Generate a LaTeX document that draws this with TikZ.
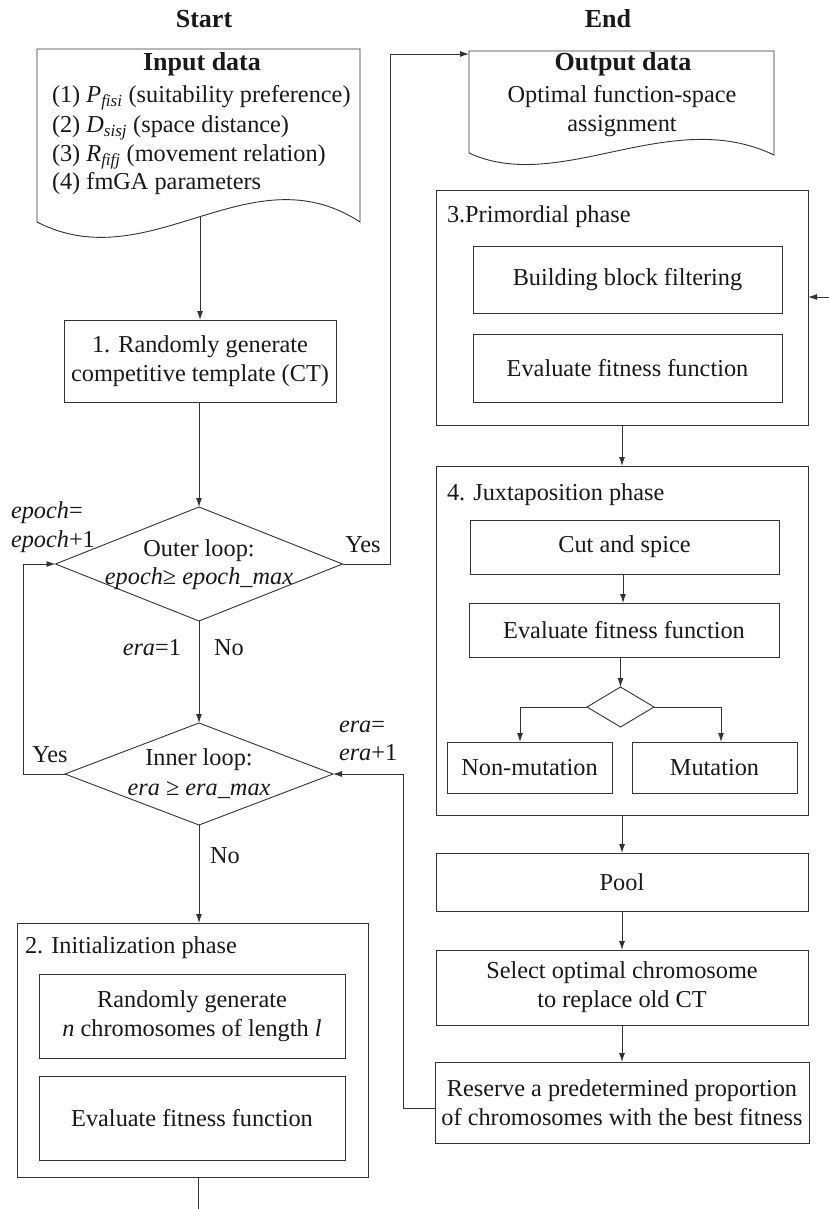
\documentclass[tikz,border=0pt]{standalone}
\usepackage{fontspec}
\setmainfont{Liberation Serif}
\usetikzlibrary{arrows.meta,shapes.geometric}
\newcommand\bodyfont{\fontsize{24.3}{29}\selectfont}
\newcommand\headfont{\fontsize{26}{30}\selectfont\bfseries}
\begin{document}
\begin{tikzpicture}[x=1pt,y=-1pt,
  every node/.style={text=black!90, inner sep=0pt, outer sep=0pt},
  line/.style={draw=black!80, line width=0.9pt},
  arr/.style={line, -{Latex[length=9pt,width=6pt]}},
  box/.style={draw=black!80, line width=0.9pt, rectangle, align=center, font=\bodyfont},
  lbl/.style={font=\bodyfont, text height=17pt, text depth=6pt},
  head/.style={font=\headfont, text height=18pt, text depth=6pt},
  dia/.style={draw=black!80, line width=0.9pt, diamond, inner sep=0pt},
]
\fill[white] (0,0) rectangle (829,1209);
\useasboundingbox (0,0) rectangle (829,1209);

% titles
\node[head] (start) at (204,22) {Start};
\node[head] (endt) at (608,22) {End};

% input document
\draw[line] (37,222) -- (37,49) -- (360,49) -- (360,222) .. controls (250,150) and (150,280) .. (37,222) -- cycle;
\coordinate (inwave) at (200,217);
\node[head] (intitle) at (202,65) {Input data};
\node[lbl, anchor=west] (in1) at (52,97) {(1) \textit{P}\textsubscript{\textit{fisi}} (suitability preference)};
\node[lbl, anchor=west] (in2) at (52,127) {(2) \textit{D}\textsubscript{\textit{sisj}} (space distance)};
\node[lbl, anchor=west] (in3) at (52,156) {(3) \textit{R}\textsubscript{\textit{fifj}} (movement relation)};
\node[lbl, anchor=west] (in4) at (52,184) {(4) fmGA parameters};

% output document
\draw[line] (469,153) -- (469,51) -- (774,51) -- (774,155) .. controls (670,105) and (560,195) .. (469,153) -- cycle;
\coordinate (outL) at (469,54);
\node[head] (outtitle) at (623,65) {Output data};
\node[lbl] (out1) at (622,97) {Optimal function-space};
\node[lbl] (out2) at (622,126) {assignment};

% left column
\node[box, minimum width=272pt, minimum height=82pt] (box1) at (200,361) {1. Randomly generate\\competitive template (CT)};
\node[dia, minimum width=287pt, minimum height=114pt] (outer) at (199,564) {};
\node[lbl] (olA) at (199,551) {Outer loop:};
\node[lbl] (olB) at (199,579) {\textit{epoch}≥ \textit{epoch\_max}};
\node[dia, minimum width=268pt, minimum height=102pt] (inner) at (199,774) {};
\node[lbl] (ilA) at (199,760) {Inner loop:};
\node[lbl] (ilB) at (199,790) {\textit{era} ≥ \textit{era\_max}};

\node[lbl, anchor=west] (ep1) at (11,513) {\textit{epoch}=};
\node[lbl, anchor=west] (ep2) at (11,542) {\textit{epoch}+1};
\node[lbl] (yes1) at (363,547) {Yes};
\node[lbl, anchor=east] (era1) at (181,650) {\textit{era}=1};
\node[lbl] (no1) at (229,650) {No};
\node[lbl] (yes2) at (50,757) {Yes};
\node[lbl, anchor=west] (er1) at (339,727) {\textit{era}=};
\node[lbl, anchor=west] (er2) at (339,755) {\textit{era}+1};
\node[lbl] (no2) at (225,858) {No};

\node[box, minimum width=351pt, minimum height=254pt] (init) at (192.5,1050) {};
\node[lbl, anchor=west] (initlbl) at (25,948) {2. Initialization phase};
\node[box, minimum width=306pt, minimum height=84pt] (initA) at (192,1016) {Randomly generate\\\textit{n} chromosomes of length \textit{l}};
\node[box, minimum width=306pt, minimum height=84pt] (initB) at (192,1118) {Evaluate fitness function};
\coordinate (bot) at (198,1209);

% right column
\node[box, minimum width=372pt, minimum height=235pt] (prim) at (622,307.5) {};
\node[lbl, anchor=west] (primlbl) at (447,217) {3.Primordial phase};
\node[box, minimum width=309pt, minimum height=67pt] (primA) at (627.5,279.5) {Building block filtering};
\node[box, minimum width=309pt, minimum height=68pt] (primB) at (627.5,368) {Evaluate fitness function};
\coordinate (rin) at (829,297);

\node[box, minimum width=372pt, minimum height=349pt] (juxt) at (622,640.5) {};
\node[lbl, anchor=west] (juxtlbl) at (447,495) {4. Juxtaposition phase};
\node[box, minimum width=309pt, minimum height=54pt] (cut) at (624.5,547) {Cut and spice};
\node[box, minimum width=310pt, minimum height=54pt] (evalJ) at (624,630) {Evaluate fitness function};
\node[dia, minimum width=67pt, minimum height=40pt] (sd) at (620.5,707) {};
\node[box, minimum width=165pt, minimum height=51pt] (nonmut) at (529.5,767.5) {Non-mutation};
\node[box, minimum width=165pt, minimum height=51pt] (mut) at (714.5,767.5) {Mutation};

\node[box, minimum width=372pt, minimum height=58pt] (pool) at (622,882) {Pool};
\node[box, minimum width=372pt, minimum height=75pt] (select) at (622,987.5) {Select optimal chromosome\\to replace old CT};
\node[box, minimum width=374pt, minimum height=81pt] (reserve) at (622,1102.5) {Reserve a predetermined proportion\\of chromosomes with the best fitness};

% connectors
\draw[arr] (inwave) -- (inwave |- box1.north);
\draw[arr] (outer.north |- box1.south) -- (outer.north);
\draw[arr] (outer.east) -- ++(48,0) |- (outL);
\draw[arr] (outer.south) -- (inner.north);
\draw[arr] (inner.west) -- ++(-42,0) |- (outer.west);
\draw[arr] (inner.south) -- (inner.south |- init.north);
\draw[line] (bot |- init.south) -- (bot);
\draw[arr] (rin) -- (rin -| prim.east);
\draw[arr] (prim.south) -- (juxt.north);
\draw[arr] (cut.south -| 623,0) -- (evalJ.north -| 623,0);
\draw[arr] (sd.north |- evalJ.south) -- (sd.north);
\draw[arr] (sd.west) -| ([xshift=-9.5pt]nonmut.north);
\draw[arr] (sd.east) -| ([xshift=6.5pt]mut.north);
\draw[arr] (juxt.south) -- (pool.north);
\draw[arr] (pool.south) -- (select.north);
\draw[arr] (select.south) -- (reserve.north);
\draw[arr] ([yshift=-5.5pt]reserve.west) -- ++(-32,0) |- (inner.east);
\end{tikzpicture}
\end{document}
